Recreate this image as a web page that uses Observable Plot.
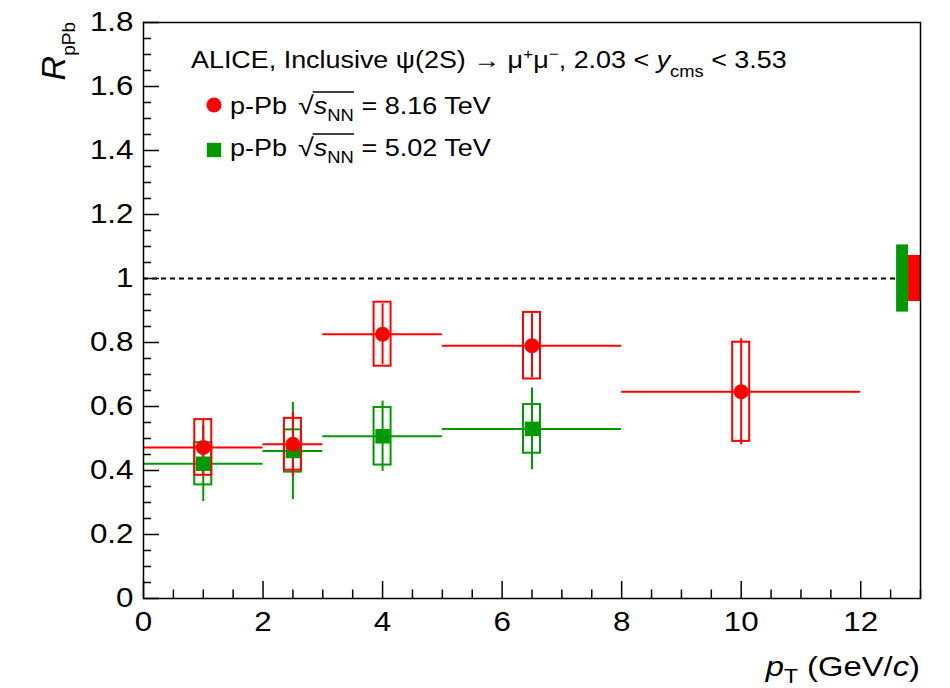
<!DOCTYPE html>
<html><head><meta charset="utf-8">
<script src="https://cdn.jsdelivr.net/npm/d3@7"></script>
<script src="https://cdn.jsdelivr.net/npm/@observablehq/plot@0.6"></script>
<style>body{margin:0;background:#fff;} svg{display:block}</style>
</head><body><div id="chart"></div>
<script>
// ---- data: p-Pb sqrt(sNN) = 8.16 TeV ----
const binLo8160 = [0, 2, 3, 5, 8];
const binHi8160 = [2, 3, 5, 8, 12];
const ptCenter8160 = [1, 2.5, 4, 6.5, 10];
const rpPb8160 = [0.472, 0.482, 0.826, 0.790, 0.646];
const stat8160 = [0.085, 0.100, 0.095, 0.100, 0.166];
const syst8160 = [0.087, 0.081, 0.100, 0.104, 0.155];

// ---- data: p-Pb sqrt(sNN) = 5.02 TeV ----
const binLo5020 = [0, 2, 3, 5];
const binHi5020 = [2, 3, 5, 8];
const ptCenter5020 = [1, 2.5, 4, 6.5];
const rpPb5020 = [0.421, 0.461, 0.507, 0.530];
const stat5020 = [0.118, 0.152, 0.110, 0.128];
const syst5020 = [0.066, 0.066, 0.090, 0.076];

// global (correlated) uncertainties around unity
const globalUnc = [0.072, 0.105]; // [8.16 TeV, 5.02 TeV]
const referenceLine = [1];

// ticks
const xMajor = [0, 2, 4, 6, 8, 10, 12];
const xMinor = d3.range(0, 13.01, 0.5).filter(v => Math.abs(v / 2 - Math.round(v / 2)) > 1e-6);
const yMajor = [0, 0.2, 0.4, 0.6, 0.8, 1, 1.2, 1.4, 1.6, 1.8];
const yMinor = d3.range(0, 1.8001, 0.05).filter(v => Math.abs(v / 0.2 - Math.round(v / 0.2)) > 1e-6);

const FONT = "'Liberation Sans', Arial, Helvetica, sans-serif";
const RED = "#ff0000", GREEN = "#009900";

function rows(lo, hi, c, v, st, sy) {
  return c.map((x, i) => ({lo: lo[i], hi: hi[i], x, y: v[i], st: st[i], sy: sy[i]}));
}
const d8 = rows(binLo8160, binHi8160, ptCenter8160, rpPb8160, stat8160, syst8160);
const d5 = rows(binLo5020, binHi5020, ptCenter5020, rpPb5020, stat5020, syst5020);
const gRows = globalUnc.map((u, k) => ({k, u, color: k === 0 ? RED : GREEN}));

function errorMarks(data, color) {
  return [
    Plot.rect(data, {x1: "x", x2: "x", y1: d => d.y - d.sy, y2: d => d.y + d.sy,
      insetLeft: -8.5, insetRight: -8.5, fill: "none", stroke: color, strokeWidth: 2}),
    Plot.ruleY(data, {y: "y", x1: "lo", x2: "hi", stroke: color, strokeWidth: 2}),
    Plot.ruleX(data, {x: "x", y1: d => d.y - d.st, y2: d => d.y + d.st, stroke: color, strokeWidth: 2})
  ];
}

const xMax = 13;
const chart = Plot.plot({
  width: 950, height: 688,
  marginLeft: 143, marginRight: 30, marginTop: 22, marginBottom: 90,
  style: {fontFamily: FONT, background: "white", color: "black"},
  x: {domain: [0, xMax]},
  y: {domain: [0, 1.8]},
  marks: [
    Plot.ruleY(referenceLine, {stroke: "black", strokeWidth: 2, strokeDasharray: "5,4"}),
    Plot.rect(gRows, {x1: d => xMax - 0.2 * (d.k + 1), x2: d => xMax - 0.2 * d.k,
      y1: d => 1 - d.u, y2: d => 1 + d.u, fill: d => d.color}),
    ...errorMarks(d5, GREEN),
    ...errorMarks(d8, RED),
    Plot.dot(d5, {x: "x", y: "y", symbol: "square", r: 8.2, fill: GREEN, stroke: "none"}),
    Plot.dot(d8, {x: "x", y: "y", symbol: "circle", r: 7.5, fill: RED, stroke: "none"}),
    Plot.frame({stroke: "black", strokeWidth: 1.5}),
    Plot.axisX(xMajor, {tickSize: 0, tickPadding: 13, fontSize: 28, label: null, tickFormat: d => String(d)}),
    Plot.axisX(xMajor, {tickSize: -17, text: null, label: null, strokeWidth: 1.5}),
    Plot.axisX(xMinor, {tickSize: -8.5, text: null, label: null, strokeWidth: 1.5}),
    Plot.axisY(yMajor, {tickSize: 0, tickPadding: 10, fontSize: 28, label: null, tickFormat: d => String(+d.toFixed(1))}),
    Plot.axisY(yMajor, {tickSize: -16, text: null, label: null, strokeWidth: 1.5}),
    Plot.axisY(yMinor, {tickSize: -8, text: null, label: null, strokeWidth: 1.5})
  ]
});
document.getElementById("chart").appendChild(chart);

const svg = d3.select(chart);

// The reference typeface is slightly wider than Liberation Sans: stretch tick labels horizontally around their anchors
svg.selectAll("g[aria-label$='tick label'] text").each(function() {
  const tx = parseFloat(this.getAttribute("x")) || 0;
  const tr = this.getAttribute("transform") || "";
  this.setAttribute("transform", `${tr} translate(${tx},0) scale(1.12,1) translate(${-tx},0)`);
});

const g = svg.append("g").attr("font-family", FONT).attr("fill", "black").attr("text-anchor", "start");

// y title
const yt = g.append("text").attr("transform", "translate(65,22) rotate(-90)").attr("text-anchor", "end");
yt.append("tspan").attr("font-size", 34).attr("font-style", "italic").text("R");
yt.append("tspan").attr("font-size", 19).attr("dy", 10).text("pPb");

// x title
const xt = g.append("text").attr("transform", "translate(920,676) scale(1.15,1)").attr("text-anchor", "end").attr("font-size", 28.5);
xt.append("tspan").attr("font-style", "italic").text("p");
xt.append("tspan").attr("font-size", 20).attr("dy", 7).text("T");
xt.append("tspan").attr("dy", -7).text(" (GeV/");
xt.append("tspan").attr("font-style", "italic").text("c");
xt.append("tspan").text(")");

// legend header
const FS = 23.5;
const l1 = g.append("text").attr("transform", "translate(191,68) scale(1.145,1)").attr("font-size", FS);
l1.append("tspan").text("ALICE, Inclusive \u03C8(2S) \u2192 \u03BC");
l1.append("tspan").attr("font-size", 15).attr("dy", -9).text("+");
l1.append("tspan").attr("dy", 9).text("\u03BC");
l1.append("tspan").attr("font-size", 15).attr("dy", -9).text("\u2212");
l1.append("tspan").attr("dy", 9).text(", 2.03 < ");
l1.append("tspan").attr("font-style", "italic").text("y");
l1.append("tspan").attr("font-size", 16).attr("dy", 9).text("cms");
l1.append("tspan").attr("dy", -9).text(" < 3.53");

const legendEntries = [
  {label: "8.16 TeV", color: RED, shape: "circle", y: 114},
  {label: "5.02 TeV", color: GREEN, shape: "square", y: 156}
];
for (const e of legendEntries) {
  if (e.shape === "circle") {
    g.append("circle").attr("cx", 214).attr("cy", e.y - 9).attr("r", 7.5).attr("fill", e.color);
  } else {
    g.append("rect").attr("x", 214 - 7.2).attr("y", e.y - 6 - 7.2).attr("width", 14.4).attr("height", 14.4).attr("fill", e.color);
  }
  const row = g.append("g").attr("transform", `translate(230,${e.y}) scale(1.15,1)`);
  const t = row.append("text").attr("x", 0).attr("y", 0).attr("font-size", FS);
  t.append("tspan").text("p-Pb ");
  t.append("tspan").attr("dx", 3).attr("font-size", 25).text("\u221A");
  t.append("tspan").attr("font-style", "italic").text("s");
  t.append("tspan").attr("font-size", 16).attr("dy", 7).text("NN");
  t.append("tspan").attr("dy", -7).text(" = " + e.label);
  // overline of the square root, from the end of the radical to the end of "NN"
  const node = t.node();
  const str = node.textContent;
  const iS = str.indexOf("\u221A");
  const iN = str.indexOf("NN") + 1;
  const x0 = node.getEndPositionOfChar(iS).x - 1;
  const x1 = node.getEndPositionOfChar(iN).x;
  row.append("line").attr("x1", x0).attr("x2", x1).attr("y1", -22).attr("y2", -22)
    .attr("stroke", "black").attr("stroke-width", 1.5);
}
</script>
</body></html>
